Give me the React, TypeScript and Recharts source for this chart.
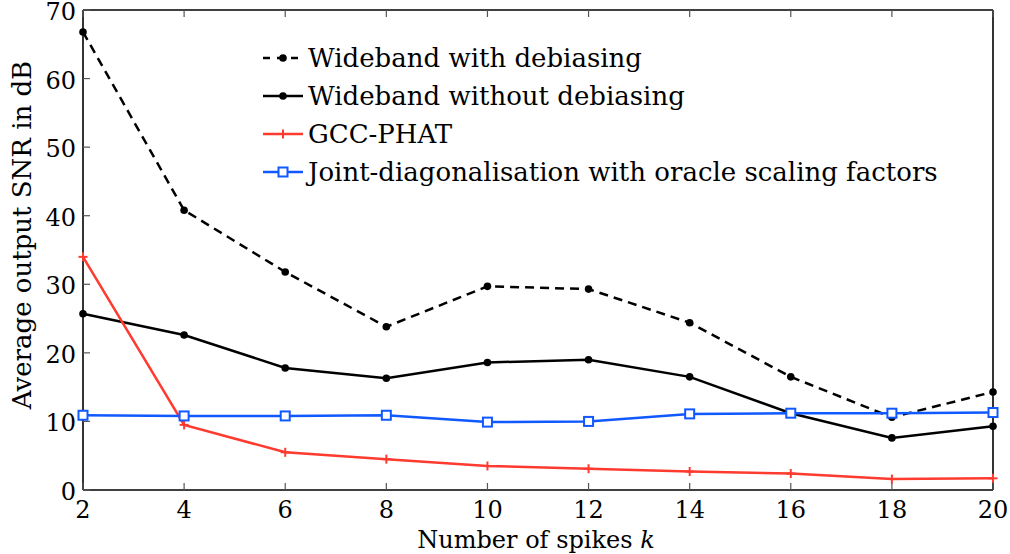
import { LineChart, Line, XAxis, YAxis } from "recharts";

const spikes = [2, 4, 6, 8, 10, 12, 14, 16, 18, 20];
const withDebias = [66.8, 40.8, 31.8, 23.8, 29.7, 29.3, 24.4, 16.5, 10.6, 14.3];
const withoutDebias = [25.7, 22.6, 17.8, 16.3, 18.6, 19.0, 16.5, 11.2, 7.6, 9.3];
const gccPhat = [34.0, 9.5, 5.5, 4.5, 3.5, 3.1, 2.7, 2.4, 1.6, 1.7];
const jointDiag = [10.9, 10.8, 10.8, 10.9, 9.9, 10.0, 11.1, 11.2, 11.2, 11.3];

const xTicks = [2, 4, 6, 8, 10, 12, 14, 16, 18, 20];
const yTicks = [0, 10, 20, 30, 40, 50, 60, 70];

const data = spikes.map((k, i) => ({
  k,
  withDebias: withDebias[i],
  withoutDebias: withoutDebias[i],
  gccPhat: gccPhat[i],
  jointDiag: jointDiag[i],
}));

const C = {
  black: "#000",
  red: "#ff3a2f",
  blue: "#1058ff",
  tick: "#555",
};

const FONT = "'DejaVu Serif', 'Liberation Serif', serif";
const FS = 24;
const TICK = 7;

const dotMark = (p: any) => <circle key={p.index} cx={p.cx} cy={p.cy} r={3.8} fill={C.black} />;
const plusMark = (p: any) => (
  <g key={p.index} stroke={C.red} strokeWidth={2}>
    <line x1={p.cx - 4.5} y1={p.cy} x2={p.cx + 4.5} y2={p.cy} />
    <line x1={p.cx} y1={p.cy - 4.5} x2={p.cx} y2={p.cy + 4.5} />
  </g>
);
const squareMark = (p: any) => (
  <rect key={p.index} x={p.cx - 4.5} y={p.cy - 4.5} width={9} height={9} fill="#fff" stroke={C.blue} strokeWidth={2} />
);

const series = [
  { key: "withDebias", name: "Wideband with debiasing", color: C.black, dash: "9 6", mark: "dot" },
  { key: "withoutDebias", name: "Wideband without debiasing", color: C.black, dash: undefined, mark: "dot" },
  { key: "gccPhat", name: "GCC-PHAT", color: C.red, dash: undefined, mark: "plus" },
  { key: "jointDiag", name: "Joint-diagonalisation with oracle scaling factors", color: C.blue, dash: undefined, mark: "square" },
];

const marks: Record<string, (p: any) => any> = { dot: dotMark, plus: plusMark, square: squareMark };

function LegendBox() {
  return (
    <div
      style={{
        position: "absolute",
        left: 261,
        top: 39,
        fontFamily: FONT,
        fontSize: 26,
        color: "#000",
        lineHeight: "38px",
      }}
    >
      {series.map((s) => (
        <div key={s.key} style={{ display: "flex", alignItems: "center", whiteSpace: "nowrap" }}>
          <svg width={46} height={20} style={{ marginRight: 1 }}>
            <line x1={2} y1={10} x2={42} y2={10} stroke={s.color} strokeWidth={2.5} strokeDasharray={s.dash ? "7 7" : undefined} />
            {marks[s.mark]({ cx: 22, cy: 10, index: 0 })}
          </svg>
          <span>{s.name}</span>
        </div>
      ))}
    </div>
  );
}

const leftTick = (p: any) => (
  <g>
    <line x1={p.x} y1={p.y} x2={p.x + TICK} y2={p.y} stroke={C.tick} strokeWidth={1.2} />
    <text x={p.x - 7} y={p.y + 10} textAnchor="end" fontFamily={FONT} fontSize={FS} fill="#000">
      {p.payload.value}
    </text>
  </g>
);
const bottomTick = (p: any) => (
  <g>
    <line x1={p.x} y1={p.y} x2={p.x} y2={p.y - TICK} stroke={C.tick} strokeWidth={1.2} />
    <text x={p.x} y={p.y + 28} textAnchor="middle" fontFamily={FONT} fontSize={FS} fill="#000">
      {p.payload.value}
    </text>
  </g>
);
const topTick = (p: any) => (
  <line x1={p.x} y1={p.y} x2={p.x} y2={p.y + TICK} stroke={C.tick} strokeWidth={1.2} />
);
const rightTick = (p: any) => (
  <line x1={p.x} y1={p.y} x2={p.x - TICK} y2={p.y} stroke={C.tick} strokeWidth={1.2} />
);

export default function App() {
  return (
    <div style={{ position: "absolute", left: 0, top: 0, width: 1010, height: 554, background: "#fff" }}>
      <LineChart width={1010} height={554} data={data} margin={{ top: 0, right: 0, bottom: 0, left: 0 }}>
        <XAxis
          dataKey="k"
          type="number"
          domain={[2, 20]}
          ticks={xTicks}
          height={64}
          tickSize={0}
          tickMargin={0}
          tickLine={false}
          tick={bottomTick}
          axisLine={{ stroke: C.black, strokeWidth: 1.6 }}
          label={{
            content: (props: any) => {
              const vb = props.viewBox;
              return (
                <text x={vb.x + vb.width / 2 - 2} y={548} textAnchor="middle" fontFamily={FONT} fontSize={FS} fill="#000">
                  Number of spikes <tspan fontStyle="italic">k</tspan>
                </text>
              );
            },
          }}
        />
        <XAxis
          xAxisId="top"
          orientation="top"
          type="number"
          dataKey="k"
          domain={[2, 20]}
          ticks={xTicks}
          height={10}
          tickSize={0}
          tickMargin={0}
          tickLine={false}
          tick={topTick}
          axisLine={{ stroke: C.black, strokeWidth: 1.6 }}
        />
        <YAxis
          type="number"
          domain={[0, 70]}
          ticks={yTicks}
          width={83}
          tickSize={0}
          tickMargin={0}
          tickLine={false}
          tick={leftTick}
          axisLine={{ stroke: C.black, strokeWidth: 1.6 }}
          label={{
            content: (props: any) => {
              const vb = props.viewBox;
              const cy = vb.y + vb.height / 2 - 15;
              return (
                <text x={22} y={cy} transform={`rotate(-90 22 ${cy})`} textAnchor="middle" dominantBaseline="central" fontFamily={FONT} fontSize={26} fill="#000">
                  Average output SNR in dB
                </text>
              );
            },
          }}
        />
        <YAxis
          yAxisId="right"
          orientation="right"
          type="number"
          domain={[0, 70]}
          ticks={yTicks}
          width={17}
          tickSize={0}
          tickMargin={0}
          tickLine={false}
          tick={rightTick}
          axisLine={{ stroke: C.black, strokeWidth: 1.6 }}
        />
        {series.map((s) => (
          <Line
            key={s.key}
            type="linear"
            dataKey={s.key}
            name={s.name}
            stroke={s.color}
            strokeWidth={2.5}
            strokeDasharray={s.dash}
            dot={marks[s.mark]}
            activeDot={false}
            isAnimationActive={false}
          />
        ))}
      </LineChart>
      <LegendBox />
    </div>
  );
}
